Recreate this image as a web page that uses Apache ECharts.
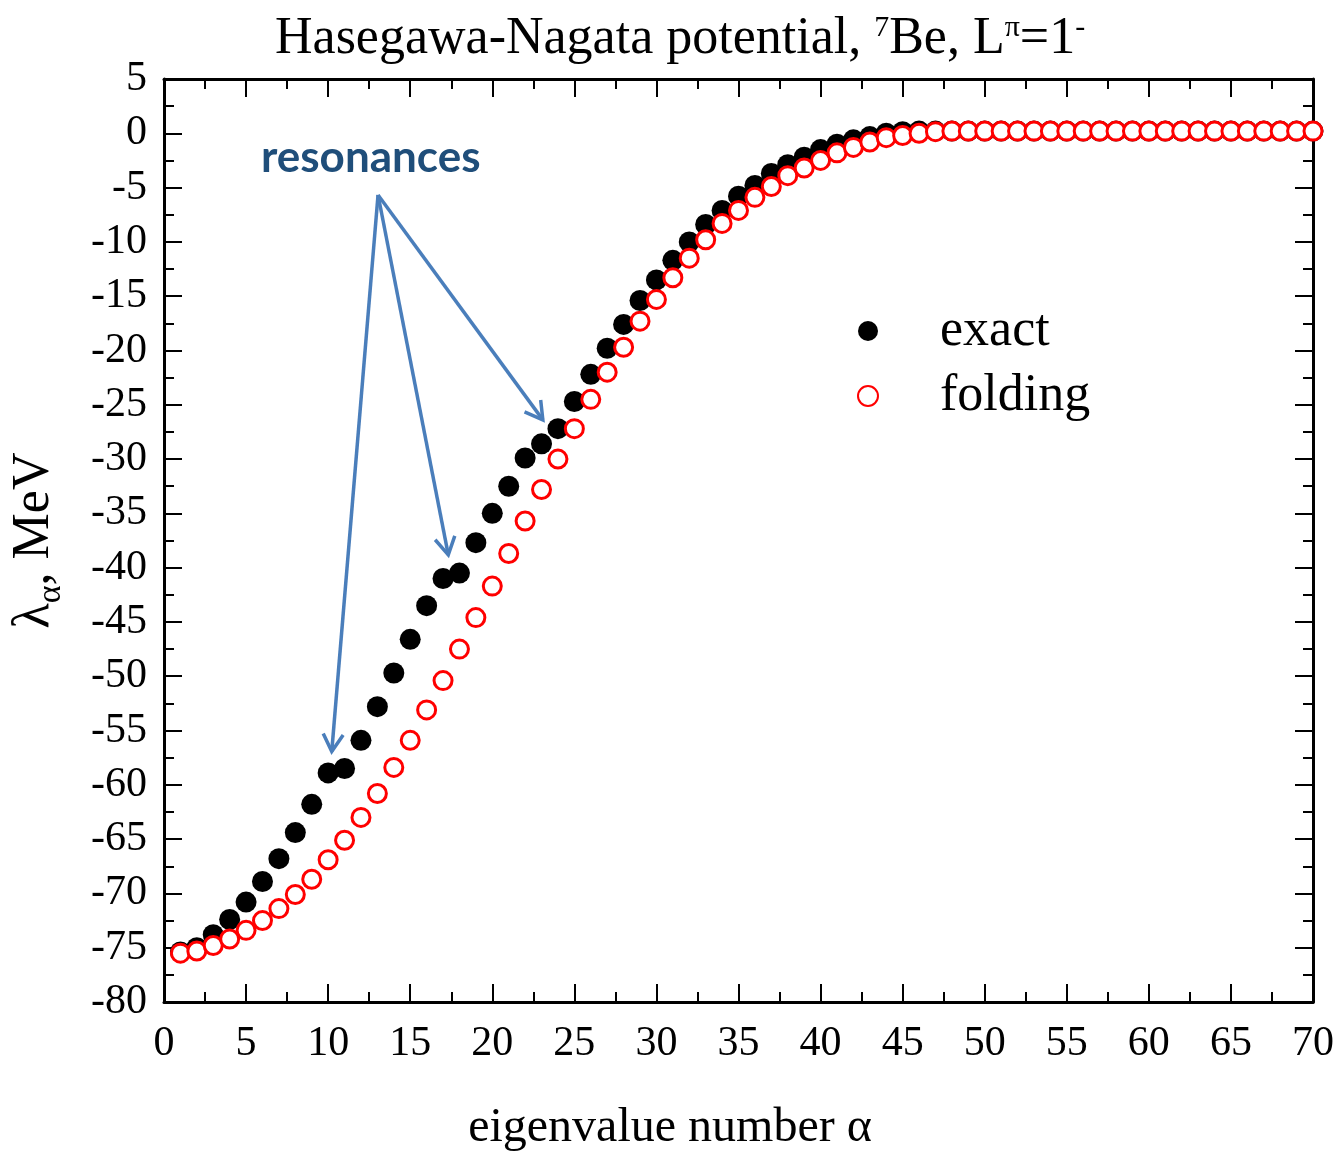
<!DOCTYPE html>
<html>
<head>
<meta charset="utf-8">
<title>Hasegawa-Nagata potential, 7Be</title>
<script src="https://cdn.jsdelivr.net/npm/echarts@6/dist/echarts.min.js"></script>
<style>
html,body{margin:0;padding:0;background:#fff;}
#main{width:1337px;height:1151px;}
</style>
</head>
<body>
<div id="main"></div>
<script>
// eigenvalue number alpha
var alphaNum = [1,2,3,4,5,6,7,8,9,10,11,12,13,14,15,16,17,18,19,20,
	21,22,23,24,25,26,27,28,29,30,31,32,33,34,35,36,37,38,39,40,
	41,42,43,44,45,46,47,48,49,50,51,52,53,54,55,56,57,58,59,60,
	61,62,63,64,65,66,67,68,69,70];
// lambda_alpha, MeV (exact)
var exactVals = [-75.4,-75.0,-73.8,-72.4,-70.8,-68.9,-66.8,-64.4,-61.8,-58.9,
	-58.5,-55.9,-52.8,-49.7,-46.6,-43.5,-41.0,-40.5,-37.7,-35.0,
	-32.5,-29.9,-28.6,-27.2,-24.7,-22.2,-19.8,-17.6,-15.4,-13.5,
	-11.7,-10.0,-8.4,-7.1,-5.8,-4.8,-3.7,-2.9,-2.2,-1.5,
	-1.0,-0.6,-0.3,0.0,0.15,0.2,0.2,0.2,0.2,0.2,
	0.2,0.2,0.2,0.2,0.2,0.2,0.2,0.2,0.2,0.2,
	0.2,0.2,0.2,0.2,0.2,0.2,0.2,0.2,0.2,0.2];
// lambda_alpha, MeV (folding)
var foldingVals = [-75.5,-75.3,-74.8,-74.2,-73.4,-72.5,-71.4,-70.1,-68.7,-66.9,
	-65.1,-63.0,-60.8,-58.4,-55.9,-53.1,-50.4,-47.5,-44.6,-41.7,
	-38.7,-35.7,-32.8,-30.0,-27.2,-24.5,-22.0,-19.7,-17.3,-15.3,
	-13.3,-11.5,-9.8,-8.3,-7.1,-5.9,-4.9,-3.9,-3.2,-2.5,
	-1.8,-1.3,-0.8,-0.4,-0.2,0.0,0.15,0.2,0.2,0.2,
	0.2,0.2,0.2,0.2,0.2,0.2,0.2,0.2,0.2,0.2,
	0.2,0.2,0.2,0.2,0.2,0.2,0.2,0.2,0.2,0.2];
var xRange = [0, 70], xStep = 5;
var yRange = [-80, 5], yStep = 5;
// "resonances" arrows, in data units
var arrowFrom = [13.04, -5.68];
var arrowTips = [[10.22, -56.93], [17.32, -38.82], [23.08, -26.39]];

var serif = 'Liberation Serif';
var arrowColor = '#4A7EBB';

function pairs(xs, ys){
	var out = [];
	for(var i=0;i<xs.length;i++){
		out.push([xs[i], ys[i]]);
	}
	return out;
}

function makeAxis(range, step, pos, showLabel, margin){
	return {
		type: 'value',
		position: pos,
		min: range[0],
		max: range[1],
		interval: step,
		axisLine: {onZero: false, lineStyle: {color: '#000', width: 3}},
		axisTick: {inside: true, length: 18, lineStyle: {color: '#000', width: 2}},
		minorTick: {show: true, splitNumber: 2, length: 10, lineStyle: {color: '#000', width: 2}},
		splitLine: {show: false},
		minorSplitLine: {show: false},
		axisLabel: {show: showLabel, fontFamily: serif, fontSize: 42, color: '#000', margin: margin}
	};
}

var chart = echarts.init(document.getElementById('main'));

var yLeft = makeAxis(yRange, yStep, 'left', true, 17);
yLeft.name = '{l|λ}{s|α}{l|, MeV}';
yLeft.nameLocation = 'middle';
yLeft.nameRotate = 90;
yLeft.nameGap = 104;
yLeft.nameTextStyle = {
	fontFamily: serif, fontSize: 52, color: '#000',
	rich: {
		l: {fontFamily: serif, fontSize: 52, color: '#000'},
		s: {fontFamily: serif, fontSize: 34, color: '#000', verticalAlign: 'bottom', padding: [0, 0, -8, 0]}
	}
};

var option = {
	animation: false,
	backgroundColor: '#fff',
	title: {
		text: 'Hasegawa-Nagata potential, {sup|7}Be, L{sup|π}=1{sup|-}',
		left: 270,
		top: 8,
		textStyle: {
			fontFamily: serif, fontSize: 52, fontWeight: 'normal', color: '#000',
			rich: {
				sup: {fontFamily: serif, fontSize: 30, color: '#000', verticalAlign: 'top'}
			}
		}
	},
	grid: {left: 164, right: 24, top: 79, bottom: 149},
	legend: {
		data: ['exact', 'folding'],
		orient: 'vertical',
		left: 852,
		top: 300,
		itemWidth: 20,
		itemHeight: 20,
		itemGap: 13,
		selectedMode: false,
		textStyle: {fontFamily: serif, fontSize: 52, color: '#000', lineHeight: 52, padding: [0, 0, 0, 57]}
	},
	xAxis: [
		makeAxis(xRange, xStep, 'bottom', true, 21),
		makeAxis(xRange, xStep, 'top', false, 8)
	],
	yAxis: [
		yLeft,
		makeAxis(yRange, yStep, 'right', false, 8)
	],
	series: [
		{
			name: 'exact',
			type: 'scatter',
			data: pairs(alphaNum, exactVals),
			symbol: 'circle',
			symbolSize: 21,
			itemStyle: {color: '#000', opacity: 1},
			z: 2
		},
		{
			name: 'folding',
			type: 'scatter',
			data: pairs(alphaNum, foldingVals),
			symbol: 'circle',
			symbolSize: 18,
			itemStyle: {color: '#fff', borderColor: '#ff0000', borderWidth: 3, opacity: 1},
			z: 3
		}
	]
};
chart.setOption(option);

// texts + arrows (arrow ends taken from the axes after layout)
var graphics = [
	{
		type: 'text', z: 100,
		style: {x: 670, y: 1128, text: 'eigenvalue number α', fontFamily: serif, fontSize: 48,
			fill: '#000', align: 'center', verticalAlign: 'middle'}
	},
	{
		type: 'text', z: 100,
		style: {x: 261, y: 158, text: 'resonances', fontFamily: 'Lato', fontWeight: 'bold', fontSize: 44,
			fill: '#1F4E7A', align: 'left', verticalAlign: 'middle'}
	}
];
var p0 = chart.convertToPixel({xAxisIndex: 0, yAxisIndex: 0}, arrowFrom);
for(var i=0;i<arrowTips.length;i++){
	var p1 = chart.convertToPixel({xAxisIndex: 0, yAxisIndex: 0}, arrowTips[i]);
	var back = Math.atan2(p0[1]-p1[1], p0[0]-p1[0]);
	var len = 20, a = Math.PI/6;
	var h1 = [p1[0]+len*Math.cos(back+a), p1[1]+len*Math.sin(back+a)];
	var h2 = [p1[0]+len*Math.cos(back-a), p1[1]+len*Math.sin(back-a)];
	graphics.push({type: 'line', z: 100, shape: {x1: p0[0], y1: p0[1], x2: p1[0], y2: p1[1]},
		style: {stroke: arrowColor, lineWidth: 3.5}});
	graphics.push({type: 'polyline', z: 100, shape: {points: [h1, p1, h2]},
		style: {stroke: arrowColor, lineWidth: 3.5, fill: null}});
}
chart.setOption({graphic: graphics});
</script>
</body>
</html>
